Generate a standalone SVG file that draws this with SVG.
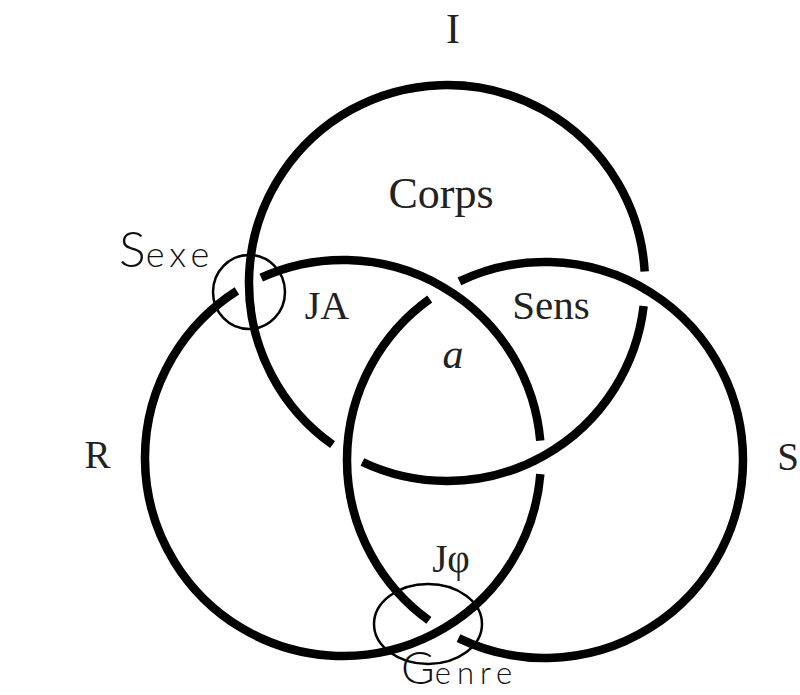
<svg xmlns="http://www.w3.org/2000/svg" width="800" height="695" viewBox="0 0 800 695">
<style>
.ring{fill:none;stroke:#000;stroke-width:8.5;stroke-linecap:butt}
.thin{fill:none;stroke:#000;stroke-width:2.5}
.lbl{font-family:"Liberation Serif","Times New Roman",serif;fill:#222;text-anchor:middle}
.hand{font-family:"Lato","Open Sans",sans-serif;font-weight:300;fill:#111}
</style>
<rect width="800" height="695" fill="#fff"/>
<g id="ring-I">
<path class="ring" d="M643.65 306.10 A198 198 0 0 1 362.38 462.01"/>
<path class="ring" d="M332.58 444.60 A198 198 0 1 1 644.67 271.60"/>
</g>
<g id="ring-R">
<path class="ring" d="M540.33 474.22 A198 198 0 1 1 236.91 290.82"/>
<path class="ring" d="M261.21 277.69 A198 198 0 0 1 540.25 440.74"/>
</g>
<g id="ring-S">
<path class="ring" d="M428.90 620.39 A198 198 0 0 1 429.74 299.00"/>
<path class="ring" d="M459.45 281.44 A198 198 0 1 1 458.51 638.11"/>
</g>
<g id="sexe">
<ellipse class="thin" cx="249" cy="292" rx="36" ry="37"/>
<text class="hand" x="119" y="267"><tspan font-size="50">S</tspan><tspan font-size="36" letter-spacing="5">exe</tspan></text>
</g>
<g id="genre">
<ellipse class="thin" cx="428" cy="624" rx="54" ry="40"/>
<text class="hand" x="401" y="684"><tspan font-size="46">G</tspan><tspan font-size="31" letter-spacing="6">enre</tspan></text>
</g>
<g id="labels">
<text class="lbl" x="453" y="43" font-size="42">I</text>
<text class="lbl" x="441" y="208" font-size="44">Corps</text>
<text class="lbl" x="327" y="319" font-size="40">JA</text>
<text class="lbl" x="551" y="319" font-size="41">Sens</text>
<text class="lbl" x="453" y="368" font-size="42" font-style="italic">a</text>
<text class="lbl" x="97.5" y="468" font-size="39">R</text>
<text class="lbl" x="799" y="470" font-size="39" style="text-anchor:end">S</text>
<text class="lbl" x="451" y="572" font-size="39">Jφ</text>
</g>
</svg>
